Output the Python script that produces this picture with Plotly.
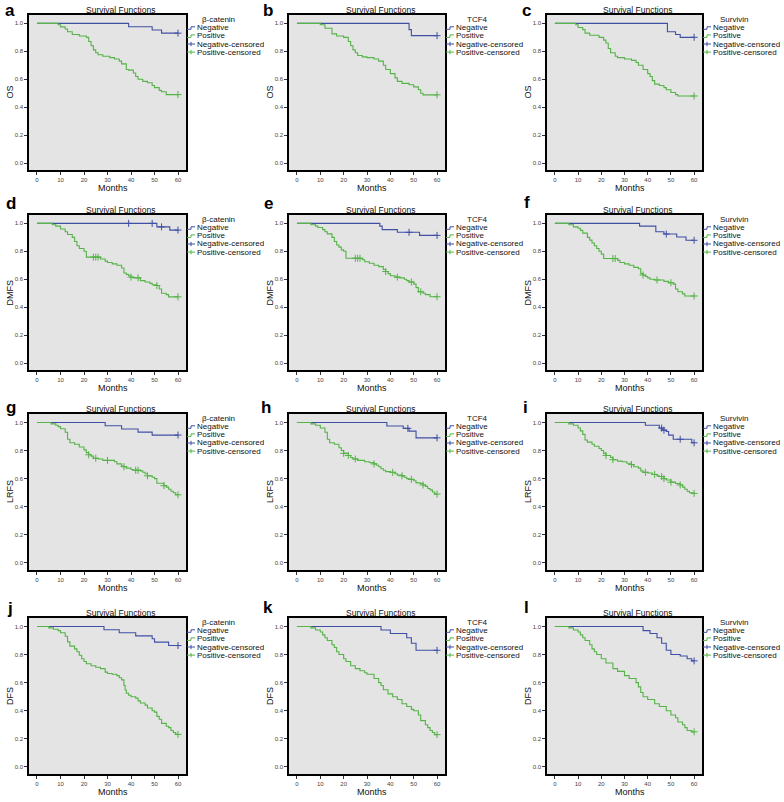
import plotly.graph_objects as go

# ---------------- DATA ----------------
MARKERS = ["β-catenin", "TCF4", "Survivin"]
ENDPOINTS = ["OS", "DMFS", "LRFS", "DFS"]
PANEL_LETTERS = ["a", "b", "c", "d", "e", "f", "g", "h", "i", "j", "k", "l"]
LEGEND_LABELS = ["Negative", "Positive", "Negative-censored", "Positive-censored"]
X_TICKS = [0, 10, 20, 30, 40, 50, 60]
Y_TICKS = [0.0, 0.2, 0.4, 0.6, 0.8, 1.0]
END_MONTH = 60

# a: OS, beta-catenin
a_neg_t = [39, 49, 53]
a_neg_s = [0.976, 0.953, 0.93]
a_neg_c = [60]
a_pos_t = [9, 10, 12, 13, 15, 18, 21, 22, 23, 24, 25, 26, 28, 31, 33, 35, 36, 38, 39, 41, 42, 43, 45, 47, 49, 50, 52, 53, 55]
a_pos_s = [0.99, 0.975, 0.96, 0.94, 0.92, 0.91, 0.90, 0.87, 0.84, 0.81, 0.79, 0.775, 0.765, 0.755, 0.745, 0.73, 0.71, 0.67, 0.665, 0.645, 0.62, 0.60, 0.585, 0.575, 0.555, 0.54, 0.52, 0.51, 0.49]
a_pos_c = [60]

# b: OS, TCF4
b_neg_t = [48, 49]
b_neg_s = [0.955, 0.912]
b_neg_c = [60]
b_pos_t = [10, 12, 15, 17, 20, 22, 23, 24, 25, 26, 28, 30, 33, 35, 37, 38, 40, 42, 43, 45, 48, 50, 52, 53, 54]
b_pos_s = [0.99, 0.965, 0.925, 0.91, 0.90, 0.87, 0.84, 0.81, 0.79, 0.77, 0.76, 0.755, 0.745, 0.73, 0.70, 0.67, 0.64, 0.61, 0.585, 0.57, 0.56, 0.545, 0.525, 0.50, 0.488]
b_pos_c = [60]

# c: OS, Survivin
c_neg_t = [48.5, 52, 54]
c_neg_s = [0.94, 0.92, 0.90]
c_neg_c = [60]
c_pos_t = [9, 10, 12, 13, 15, 19, 21, 22, 23, 24, 26, 27, 30, 33, 35, 36, 38, 40, 41, 42, 43, 45, 47, 48, 50, 52, 53]
c_pos_s = [0.99, 0.97, 0.955, 0.93, 0.915, 0.90, 0.88, 0.86, 0.82, 0.79, 0.765, 0.755, 0.745, 0.735, 0.72, 0.70, 0.67, 0.64, 0.62, 0.59, 0.565, 0.555, 0.54, 0.525, 0.505, 0.49, 0.48]
c_pos_c = [60]

# d: DMFS, beta-catenin
d_neg_t = [51, 56.5]
d_neg_s = [0.975, 0.952]
d_neg_c = [39, 49, 53, 60]
d_pos_t = [6.5, 8, 10, 12, 13, 15, 16, 17, 18, 20, 21, 27, 29, 30, 32, 34, 36, 37, 38, 39, 40, 41, 44, 46, 48, 49, 51, 52, 53, 55, 56]
d_pos_s = [0.99, 0.98, 0.96, 0.94, 0.92, 0.90, 0.87, 0.84, 0.82, 0.80, 0.758, 0.745, 0.73, 0.72, 0.71, 0.70, 0.68, 0.645, 0.635, 0.625, 0.615, 0.61, 0.59, 0.58, 0.57, 0.56, 0.555, 0.53, 0.50, 0.49, 0.474]
d_pos_c = [24, 25, 26, 40, 43, 51, 60]

# e: DMFS, TCF4
e_neg_t = [35.5, 36.5, 43, 52.5]
e_neg_s = [0.98, 0.955, 0.936, 0.914]
e_neg_c = [48, 60]
e_pos_t = [6, 8, 9, 11, 12, 13, 15, 16, 17, 18, 19, 20, 21, 28, 29, 31, 33, 35, 37, 38, 39, 40, 42, 44, 46, 47, 48, 50, 51, 52, 54, 55, 57]
e_pos_s = [0.99, 0.98, 0.97, 0.955, 0.94, 0.925, 0.90, 0.87, 0.845, 0.83, 0.81, 0.80, 0.75, 0.74, 0.725, 0.715, 0.70, 0.69, 0.67, 0.655, 0.64, 0.625, 0.615, 0.61, 0.60, 0.59, 0.58, 0.565, 0.54, 0.51, 0.50, 0.49, 0.475]
e_pos_c = [25, 26, 27, 38, 43, 49, 53, 60]

# f: DMFS, Survivin
f_neg_t = [36.5, 43.5, 47, 52.5, 56.5]
f_neg_s = [0.98, 0.94, 0.924, 0.902, 0.879]
f_neg_c = [48, 60]
f_pos_t = [6, 8, 10, 11, 12, 14, 15, 16, 17, 18, 19, 20, 21, 27, 28, 30, 32, 34, 36, 37, 38, 39, 40, 41, 43, 47, 49, 51, 52, 53, 55, 56]
f_pos_s = [0.99, 0.975, 0.965, 0.95, 0.93, 0.90, 0.88, 0.86, 0.84, 0.82, 0.80, 0.78, 0.748, 0.735, 0.72, 0.71, 0.70, 0.685, 0.675, 0.64, 0.63, 0.62, 0.61, 0.60, 0.595, 0.585, 0.575, 0.565, 0.53, 0.51, 0.495, 0.48]
f_pos_c = [25, 26, 38, 44, 50, 60]

# g: LRFS, beta-catenin
g_neg_t = [29, 36, 43, 49]
g_neg_s = [0.976, 0.953, 0.931, 0.91]
g_neg_c = [60]
g_pos_t = [6, 8, 9, 10, 12, 13, 14, 16, 18, 20, 21, 22, 23, 24, 26, 28, 33, 34, 36, 37, 38, 40, 41, 44, 45, 46, 47, 49, 50, 51, 54, 55, 56, 57, 58, 59]
g_pos_s = [0.99, 0.98, 0.97, 0.955, 0.93, 0.88, 0.855, 0.845, 0.825, 0.805, 0.785, 0.77, 0.76, 0.745, 0.74, 0.73, 0.72, 0.705, 0.69, 0.685, 0.675, 0.665, 0.66, 0.655, 0.645, 0.635, 0.62, 0.61, 0.60, 0.567, 0.55, 0.54, 0.525, 0.51, 0.50, 0.485]
g_pos_c = [22, 25, 30, 37, 42, 43, 47, 54, 60]

# h: LRFS, TCF4
h_neg_t = [38.5, 45.5, 48, 51]
h_neg_s = [0.975, 0.958, 0.938, 0.89]
h_neg_c = [47.5, 60]
h_pos_t = [6, 8, 10, 12, 13, 14, 16, 18, 19, 20, 22, 23, 24, 26, 29, 31, 33, 34, 35, 36, 37, 38, 40, 42, 43, 45, 46, 47, 48, 50, 51, 53, 54, 55, 56, 57, 58, 59]
h_pos_s = [0.99, 0.98, 0.96, 0.93, 0.88, 0.855, 0.845, 0.82, 0.80, 0.78, 0.765, 0.75, 0.74, 0.73, 0.72, 0.715, 0.705, 0.695, 0.685, 0.67, 0.66, 0.65, 0.645, 0.635, 0.625, 0.62, 0.61, 0.60, 0.595, 0.585, 0.57, 0.565, 0.555, 0.545, 0.53, 0.52, 0.505, 0.49]
h_pos_c = [20, 22, 25, 33, 41, 45, 49, 54, 60]

# i: LRFS, Survivin
i_neg_t = [39, 45, 46.5, 48, 49, 51, 59]
i_neg_s = [0.98, 0.96, 0.945, 0.935, 0.91, 0.88, 0.855]
i_neg_c = [46, 47, 54, 60]
i_pos_t = [6, 8, 10, 11, 12, 13, 14, 16, 17, 19, 20, 21, 22, 24, 25, 27, 29, 31, 33, 34, 36, 37, 38, 40, 42, 44, 45, 47, 48, 50, 52, 54, 55, 56, 57, 58, 59.5]
i_pos_s = [0.99, 0.98, 0.96, 0.94, 0.915, 0.875, 0.86, 0.845, 0.83, 0.815, 0.80, 0.78, 0.765, 0.75, 0.735, 0.725, 0.72, 0.71, 0.70, 0.685, 0.675, 0.655, 0.645, 0.64, 0.63, 0.62, 0.615, 0.60, 0.59, 0.575, 0.565, 0.555, 0.54, 0.525, 0.51, 0.50, 0.495]
i_pos_c = [22, 25, 33, 39, 43, 46, 47, 50, 54, 60]

# j: DFS, beta-catenin
j_neg_t = [28.5, 35, 42, 49, 50, 56]
j_neg_s = [0.976, 0.955, 0.933, 0.912, 0.888, 0.864]
j_neg_c = [60]
j_pos_t = [5, 7, 9, 10, 12, 13, 14, 16, 17, 18, 19, 20, 21, 23, 25, 27, 29, 30, 32, 34, 35, 36, 37, 37.5, 38, 39, 40, 42, 43, 44, 46, 47, 49, 50, 51, 52, 53, 55, 56, 57, 58, 59]
j_pos_s = [0.99, 0.98, 0.97, 0.955, 0.93, 0.89, 0.86, 0.84, 0.82, 0.795, 0.77, 0.75, 0.735, 0.72, 0.71, 0.70, 0.675, 0.665, 0.66, 0.65, 0.635, 0.62, 0.58, 0.548, 0.525, 0.51, 0.50, 0.49, 0.47, 0.455, 0.44, 0.42, 0.40, 0.39, 0.36, 0.34, 0.31, 0.29, 0.28, 0.26, 0.245, 0.232]
j_pos_c = [60]

# k: DFS, TCF4
k_neg_t = [36, 40, 47, 49, 51]
k_neg_s = [0.975, 0.95, 0.92, 0.88, 0.83]
k_neg_c = [60]
k_pos_t = [6, 8, 10, 11, 12, 13, 15, 16, 17, 18, 20, 21, 23, 25, 27, 29, 30, 33, 35, 36, 37, 39, 41, 43, 45, 47, 49, 50, 52, 53, 55, 56, 57, 58, 59]
k_pos_s = [0.99, 0.975, 0.96, 0.94, 0.92, 0.90, 0.87, 0.85, 0.82, 0.80, 0.77, 0.75, 0.72, 0.70, 0.685, 0.67, 0.66, 0.63, 0.60, 0.58, 0.55, 0.52, 0.50, 0.48, 0.45, 0.43, 0.41, 0.40, 0.37, 0.33, 0.30, 0.28, 0.26, 0.245, 0.23]
k_pos_c = [60]

# l: DFS, Survivin
l_neg_t = [38, 41, 44, 46, 48, 50, 54, 57, 59]
l_neg_s = [0.97, 0.95, 0.92, 0.88, 0.83, 0.80, 0.79, 0.77, 0.755]
l_neg_c = [60]
l_pos_t = [6, 8, 10, 11, 12, 13, 15, 16, 17, 18, 20, 22, 25, 27, 30, 32, 35, 36, 37, 38, 40, 43, 45, 48, 50, 52, 53, 55, 56, 57, 59]
l_pos_s = [0.99, 0.975, 0.96, 0.94, 0.92, 0.90, 0.87, 0.84, 0.82, 0.80, 0.77, 0.74, 0.70, 0.68, 0.65, 0.63, 0.60, 0.57, 0.53, 0.50, 0.48, 0.45, 0.43, 0.40, 0.37, 0.35, 0.32, 0.30, 0.28, 0.26, 0.25]
l_pos_c = [60]

NEG_T = [a_neg_t, b_neg_t, c_neg_t, d_neg_t, e_neg_t, f_neg_t, g_neg_t, h_neg_t, i_neg_t, j_neg_t, k_neg_t, l_neg_t]
NEG_S = [a_neg_s, b_neg_s, c_neg_s, d_neg_s, e_neg_s, f_neg_s, g_neg_s, h_neg_s, i_neg_s, j_neg_s, k_neg_s, l_neg_s]
NEG_C = [a_neg_c, b_neg_c, c_neg_c, d_neg_c, e_neg_c, f_neg_c, g_neg_c, h_neg_c, i_neg_c, j_neg_c, k_neg_c, l_neg_c]
POS_T = [a_pos_t, b_pos_t, c_pos_t, d_pos_t, e_pos_t, f_pos_t, g_pos_t, h_pos_t, i_pos_t, j_pos_t, k_pos_t, l_pos_t]
POS_S = [a_pos_s, b_pos_s, c_pos_s, d_pos_s, e_pos_s, f_pos_s, g_pos_s, h_pos_s, i_pos_s, j_pos_s, k_pos_s, l_pos_s]
POS_C = [a_pos_c, b_pos_c, c_pos_c, d_pos_c, e_pos_c, f_pos_c, g_pos_c, h_pos_c, i_pos_c, j_pos_c, k_pos_c, l_pos_c]

# ---------------- LAYOUT / STYLE ----------------
W, H = 784, 802
BLUE = "#3f4fa3"
GREEN = "#55b347"
BG = "#e4e4e4"
FONT = "Arial, Liberation Sans, sans-serif"
COL_X = [(29, 186), (289, 445), (547, 702)]
ROW_Y = [(15, 170), (215, 370), (414, 570), (618, 774)]
LETTER_POS = [(10, 11), (268, 10), (526, 11), (11, 204), (268, 204), (527, 203),
              (11, 408), (266, 408), (525, 407), (10, 608), (268, 607), (526, 607)]


def px(x):
    return x / W


def py(y):
    return 1 - y / H


def step_xy(times, surv):
    xs = [0] + list(times) + [END_MONTH]
    ys = [1.0] + list(surv) + [surv[-1] if surv else 1.0]
    return xs, ys


def surv_at(times, surv, t):
    val = 1.0
    for ti, si in zip(times, surv):
        if ti <= t:
            val = si
    return val


fig = go.Figure()
annotations = []
shapes = []

for p in range(12):
    r, c = divmod(p, 3)
    idx = "" if p == 0 else str(p + 1)
    xa, ya = "x" + idx, "y" + idx
    x0, x1 = COL_X[c]
    y0, y1 = ROW_Y[r]

    for times, surv, cens, col in [(NEG_T[p], NEG_S[p], NEG_C[p], BLUE),
                                   (POS_T[p], POS_S[p], POS_C[p], GREEN)]:
        xs, ys = step_xy(times, surv)
        fig.add_trace(go.Scatter(x=xs, y=ys, mode="lines", line=dict(color=col, width=1.1, shape="hv"),
                                 xaxis=xa, yaxis=ya, showlegend=False, hoverinfo="skip"))
        cy = [surv_at(times, surv, t) for t in cens]
        fig.add_trace(go.Scatter(x=cens, y=cy, mode="markers",
                                 marker=dict(symbol="cross-thin-open", size=5, color=col,
                                             line=dict(color=col, width=1)),
                                 xaxis=xa, yaxis=ya, showlegend=False, hoverinfo="skip"))

    axis_common = dict(showline=True, linecolor="black", linewidth=1.5, mirror=True,
                       ticks="outside", ticklen=3, tickwidth=1, tickcolor="#333",
                       tickfont=dict(size=6, color="#444", family=FONT),
                       showgrid=False, zeroline=False)
    fig.update_layout(**{
        ("xaxis" + idx): dict(domain=[px(x0), px(x1)], range=[-3.4, 63.4], tickvals=X_TICKS,
                              anchor=ya, **axis_common),
        ("yaxis" + idx): dict(domain=[py(y1), py(y0)], range=[-0.05, 1.06], tickvals=Y_TICKS,
                              tickformat=".1f", anchor=xa, **axis_common),
    })
    shapes.append(dict(type="rect", xref="paper", yref="paper", x0=px(x0), x1=px(x1),
                       y0=py(y1), y1=py(y0), fillcolor=BG, line=dict(width=0), layer="below"))

    # title, axis titles, panel letter
    annotations.append(dict(x=px((x0 + x1) / 2 + 13), y=py(y0 - 5), xref="paper", yref="paper",
                            text="Survival Functions", showarrow=False, borderpad=0,
                            font=dict(size=8.5, family=FONT, color="#111"), xanchor="center", yanchor="middle"))
    annotations.append(dict(x=px((x0 + x1) / 2 + 5), y=py(y1 + 18), xref="paper", yref="paper",
                            text="Months", showarrow=False,
                            font=dict(size=9, family=FONT, color="#111"), xanchor="center", yanchor="middle"))
    annotations.append(dict(x=px(x0 - 19), y=py((y0 + y1) / 2), xref="paper", yref="paper",
                            text=ENDPOINTS[r], textangle=-90, showarrow=False,
                            font=dict(size=9, family=FONT, color="#111"), xanchor="center", yanchor="middle"))
    lx, ly = LETTER_POS[p]
    annotations.append(dict(x=px(lx), y=py(ly), xref="paper", yref="paper",
                            text="<b>" + PANEL_LETTERS[p] + "</b>", showarrow=False,
                            font=dict(size=17, family=FONT, color="black"), xanchor="center", yanchor="middle"))

    # legend
    tx = x1 + 10
    annotations.append(dict(x=px(tx + 22), y=py(y0 + 4.5), xref="paper", yref="paper",
                            text=MARKERS[c], showarrow=False, borderpad=0,
                            font=dict(size=8, family=FONT, color="#111"), xanchor="center", yanchor="middle"))
    for k, lab in enumerate(LEGEND_LABELS):
        yy = y0 + 12.8 + 8.1 * k
        annotations.append(dict(x=px(tx), y=py(yy), xref="paper", yref="paper", text=lab, showarrow=False,
                                borderpad=0,
                                font=dict(size=8, family=FONT, color="#111"), xanchor="left", yanchor="middle"))
        colr = BLUE if k % 2 == 0 else GREEN
        sx0 = x1 + 1
        if k < 2:
            path = "M {},{} L {},{} L {},{} L {},{}".format(
                px(sx0), py(yy + 1.5), px(sx0 + 4), py(yy + 1.5), px(sx0 + 4), py(yy - 1), px(tx - 1), py(yy - 1))
            shapes.append(dict(type="path", xref="paper", yref="paper", path=path,
                               line=dict(color=colr, width=1)))
        else:
            shapes.append(dict(type="line", xref="paper", yref="paper", x0=px(sx0), x1=px(tx - 1),
                               y0=py(yy), y1=py(yy), line=dict(color=colr, width=1)))
            shapes.append(dict(type="line", xref="paper", yref="paper", x0=px(sx0 + 4), x1=px(sx0 + 4),
                               y0=py(yy - 2.2), y1=py(yy + 2.2), line=dict(color=colr, width=1)))

fig.update_layout(width=W, height=H, margin=dict(l=0, r=0, t=0, b=0),
                  paper_bgcolor="white", plot_bgcolor="rgba(0,0,0,0)",
                  annotations=annotations, shapes=shapes, showlegend=False,
                  font=dict(family=FONT))

fig.write_html("out.html", config={"displayModeBar": False},
               post_script="document.body.style.margin='0';document.body.style.overflow='hidden';")
